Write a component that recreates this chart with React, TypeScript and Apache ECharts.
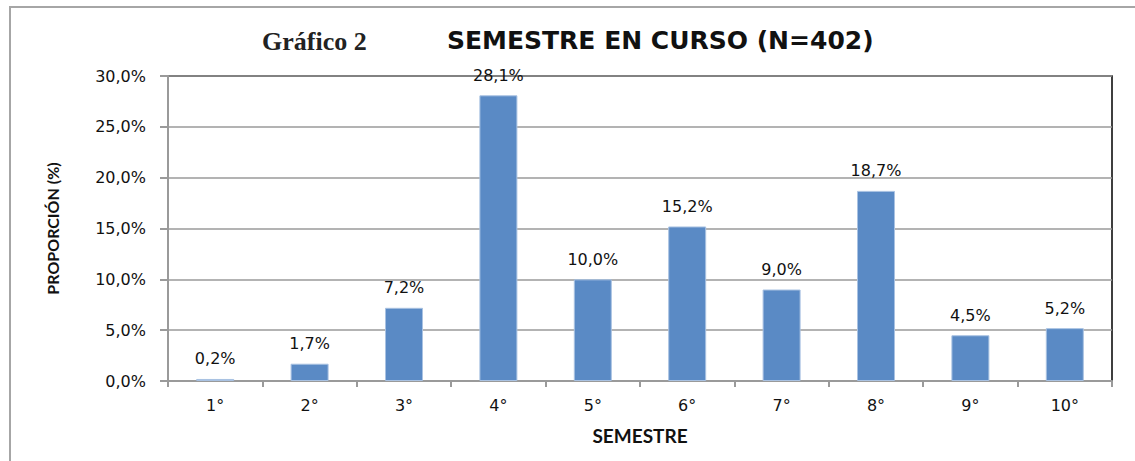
import React, { useEffect, useRef } from "react";
import * as echarts from "echarts";

const categories = ["1°", "2°", "3°", "4°", "5°", "6°", "7°", "8°", "9°", "10°"];
const values = [0.2, 1.7, 7.2, 28.1, 10.0, 15.2, 9.0, 18.7, 4.5, 5.2];
const chartTitle = "Gráfico 2";
const chartSubtitle = "SEMESTRE EN CURSO (N=402)";
const yAxisName = "PROPORCIÓN (%)";
const xAxisName = "SEMESTRE";

const fmt = (v: number) => v.toFixed(1).replace(".", ",") + "%";

export default function App() {
  const ref = useRef<HTMLDivElement>(null);
  useEffect(() => {
    document.body.style.margin = "0";
    const chart = echarts.init(ref.current!, null, { renderer: "svg" });
    const labelFont = "DejaVu Sans";
    const nameFont = "Lato, 'Liberation Sans', sans-serif";
    chart.setOption({
      animation: false,
      backgroundColor: "#fff",
      title: [
        {
          text: chartTitle,
          left: 257,
          top: 23,
          textStyle: { fontFamily: "Liberation Serif", fontWeight: "bold", fontSize: 26, color: "#222" },
        },
        {
          text: chartSubtitle,
          left: 442,
          top: 23,
          textStyle: { fontFamily: "DejaVu Sans", fontWeight: "bold", fontSize: 25, color: "#111" },
        },
      ],
      graphic: [
        {
          type: "rect",
          shape: { x: 10, y: 7, width: 1300, height: 600 },
          style: { fill: "none", stroke: "#a6a6a6", lineWidth: 2 },
          silent: true,
        },
      ],
      grid: {
        left: 168,
        right: 23,
        top: 76,
        bottom: 80,
        show: true,
        borderColor: "#000",
        borderWidth: 1.5,
      },
      xAxis: {
        type: "category",
        data: categories,
        name: xAxisName,
        nameLocation: "middle",
        nameGap: 45,
        nameTextStyle: { fontFamily: nameFont, fontWeight: "bold", fontSize: 19, color: "#111" },
        axisLine: { lineStyle: { color: "#9a9a9a", width: 2 } },
        axisTick: { show: true, alignWithLabel: false, length: 6, lineStyle: { color: "#9a9a9a", width: 2 } },
        axisLabel: { fontFamily: labelFont, fontSize: 16, color: "#111", margin: 16, interval: 0 },
      },
      yAxis: {
        type: "value",
        min: 0,
        max: 30,
        interval: 5,
        name: yAxisName,
        nameLocation: "middle",
        nameGap: 108,
        nameTextStyle: { fontFamily: nameFont, fontWeight: "bold", fontSize: 16, color: "#111" },
        axisLine: { show: true, lineStyle: { color: "#9a9a9a", width: 2 } },
        axisTick: { show: true, length: 8, lineStyle: { color: "#9a9a9a", width: 2 } },
        axisLabel: { fontFamily: labelFont, fontSize: 16, color: "#111", margin: 22, formatter: (v: number) => fmt(v) },
        splitLine: { lineStyle: { color: "#9a9a9a", width: 1.5 } },
      },
      series: [
        {
          type: "bar",
          data: values,
          barWidth: 38,
          itemStyle: { color: "#5a8ac5", borderColor: "#a9c2e2", borderWidth: 1 },
          label: {
            show: true,
            position: "top",
            distance: 12,
            fontFamily: labelFont,
            fontSize: 16,
            color: "#111",
            formatter: (p: any) => fmt(p.value),
          },
        },
      ],
    });
    return () => chart.dispose();
  }, []);
  return <div ref={ref} style={{ position: "fixed", left: 0, top: 0, width: 1135, height: 461 }} />;
}
